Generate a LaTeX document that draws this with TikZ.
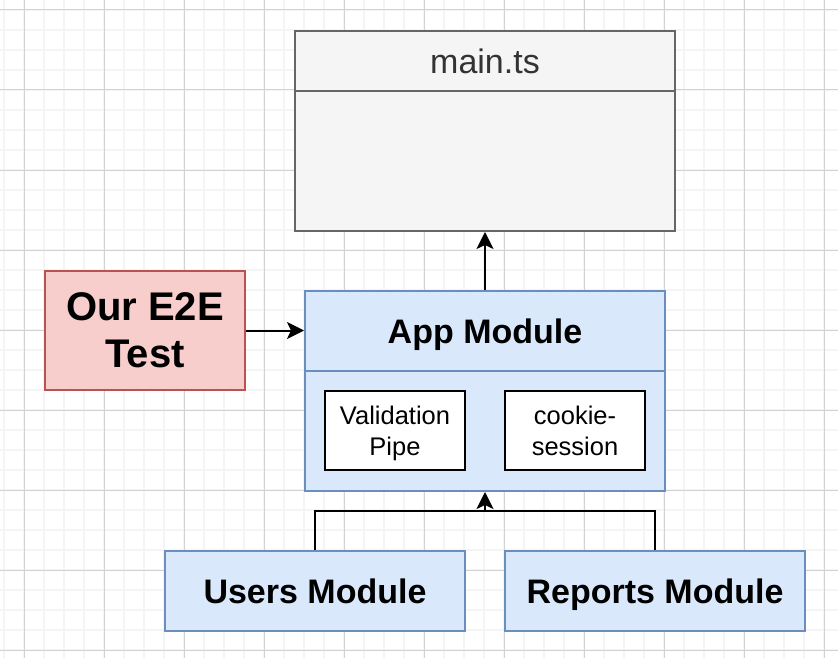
\documentclass[tikz,border=0pt]{standalone}
\usepackage{fontspec}
\setmainfont{Liberation Sans}
\usetikzlibrary{arrows.meta}
\definecolor{gridminor}{HTML}{F4F4F4}
\definecolor{gridmajor}{HTML}{D2D2D2}
\definecolor{mainfill}{HTML}{F5F5F5}
\definecolor{mainline}{HTML}{666666}
\definecolor{maintext}{HTML}{333333}
\definecolor{modfill}{HTML}{DAE8FC}
\definecolor{modline}{HTML}{6C8EBF}
\definecolor{testfill}{HTML}{F8CECC}
\definecolor{testline}{HTML}{B85450}
\begin{document}
\begin{tikzpicture}[x=1pt,y=-1pt,line width=2pt]
% Styles
\tikzstyle{minor grid}=[gridminor,line width=1.5pt]
\tikzstyle{major grid}=[gridmajor,line width=1pt]
\tikzstyle{mainbox}=[draw=mainline,fill=mainfill,minimum width=380pt,minimum height=200pt,inner sep=0pt]
\tikzstyle{mainhead}=[draw=mainline,fill=mainfill,minimum width=380pt,minimum height=60pt,inner sep=0pt,text=maintext,font=\fontsize{34}{40}\selectfont]
\tikzstyle{module}=[draw=modline,fill=modfill,minimum width=300pt,minimum height=80pt,inner sep=0pt,text height=25pt,text depth=0pt,font=\fontsize{34}{40}\selectfont\bfseries]
\tikzstyle{inner box}=[draw=black,fill=white,minimum width=140pt,minimum height=79pt,inner sep=0pt,align=center,text depth=0pt,font=\fontsize{25.5}{31}\selectfont]
\tikzstyle{test box}=[draw=testline,fill=testfill,minimum width=200pt,minimum height=119pt,inner sep=0pt,align=center,font=\fontsize{40}{47}\selectfont\bfseries]
\tikzstyle{arr}=[->,>={Stealth[length=17pt,width=17pt,inset=4pt]}]

\useasboundingbox (0,0) rectangle (838,658);
\fill[white] (0,0) rectangle (838,658);

% draw the grid
\foreach \x in {4,24,...,838} {
\draw[minor grid] (\x,0) -- (\x,658);
}
\foreach \y in {10,30,...,658} {
\draw[minor grid] (0,\y) -- (838,\y);
}
\foreach \x in {24,104,...,838} {
\draw[major grid] (\x,0) -- (\x,658);
}
\foreach \y in {10,90,...,658} {
\draw[major grid] (0,\y) -- (838,\y);
}

% draw the nodes
\node[mainbox] (main) at (485,131) {};
\node[mainhead] (mainhead) at (485,61) {main.ts};

\node[module,minimum width=360pt,minimum height=200pt] (app) at (485,391) {};
\node[module,minimum width=360pt] (apphead) at (485,331) {App Module};
\node[inner box] (pipe) at (395,430.5) {Validation\\Pipe};
\node[inner box] (cookie) at (575,430.5) {cookie-\\session};

\node[test box] (test) at (145,330.5) {Our E2E\\Test};

\node[module] (users) at (315,591) {Users Module};
\node[module] (reports) at (655,591) {Reports Module};

% draw the paths
\coordinate (join) at (485,511);
\draw[arr] (app.north) -- (main.south);
\draw[arr] (test.east) -- (test.east -| app.west);
\draw (users.north) |- (join);
\draw (reports.north) |- (join);
\draw[arr] (join) -- (app.south);

\end{tikzpicture}
\end{document}
